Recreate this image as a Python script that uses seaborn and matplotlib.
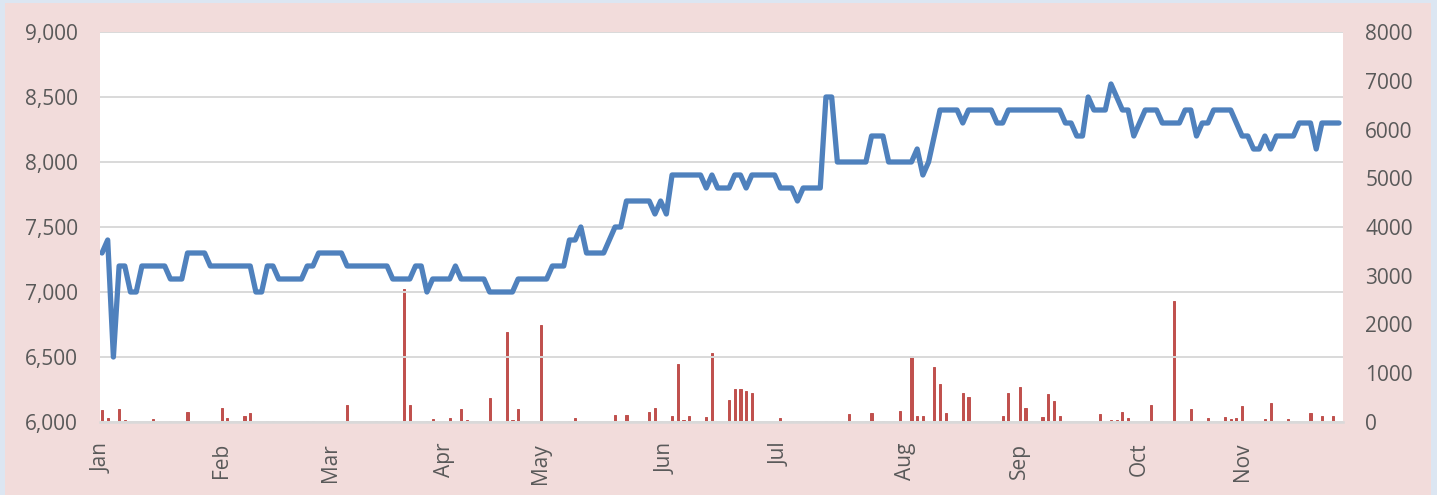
import numpy as np
import pandas as pd
import matplotlib
matplotlib.use("Agg")
import matplotlib.pyplot as plt
import seaborn as sns
from matplotlib.patches import Rectangle
from matplotlib.ticker import FuncFormatter

# trading days per month (category axis, one point per session)
months       = ["Jan", "Feb", "Mar", "Apr", "May", "Jun", "Jul", "Aug", "Sep", "Oct", "Nov"]
month_counts = [21, 19, 20, 17, 22, 20, 22, 20, 21, 18, 18]

# closing price (left axis)
close = [
    7300, 7400, 6500, 7200, 7200, 7000, 7000, 7200, 7200, 7200,
    7200, 7200, 7100, 7100, 7100, 7300, 7300, 7300, 7300, 7200,
    7200, 7200, 7200, 7200, 7200, 7200, 7200, 7000, 7000, 7200,
    7200, 7100, 7100, 7100, 7100, 7100, 7200, 7200, 7300, 7300,
    7300, 7300, 7300, 7200, 7200, 7200, 7200, 7200, 7200, 7200,
    7200, 7100, 7100, 7100, 7100, 7200, 7200, 7000, 7100, 7100,
    7100, 7100, 7200, 7100, 7100, 7100, 7100, 7100, 7000, 7000,
    7000, 7000, 7000, 7100, 7100, 7100, 7100, 7100, 7100, 7200,
    7200, 7200, 7400, 7400, 7500, 7300, 7300, 7300, 7300, 7400,
    7500, 7500, 7700, 7700, 7700, 7700, 7700, 7600, 7700, 7600,
    7900, 7900, 7900, 7900, 7900, 7900, 7800, 7900, 7800, 7800,
    7800, 7900, 7900, 7800, 7900, 7900, 7900, 7900, 7900, 7800,
    7800, 7800, 7700, 7800, 7800, 7800, 7800, 8500, 8500, 8000,
    8000, 8000, 8000, 8000, 8000, 8200, 8200, 8200, 8000, 8000,
    8000, 8000, 8000, 8100, 7900, 8000, 8200, 8400, 8400, 8400,
    8400, 8300, 8400, 8400, 8400, 8400, 8400, 8300, 8300, 8400,
    8400, 8400, 8400, 8400, 8400, 8400, 8400, 8400, 8400, 8300,
    8300, 8200, 8200, 8500, 8400, 8400, 8400, 8600, 8500, 8400,
    8400, 8200, 8300, 8400, 8400, 8400, 8300, 8300, 8300, 8300,
    8400, 8400, 8200, 8300, 8300, 8400, 8400, 8400, 8400, 8300,
    8200, 8200, 8100, 8100, 8200, 8100, 8200, 8200, 8200, 8200,
    8300, 8300, 8300, 8100, 8300, 8300, 8300, 8300,
]

# traded volume (right axis)
volume = [
    250, 75, 0, 260, 50, 0, 0, 0, 0, 70,
    0, 0, 20, 0, 0, 195, 0, 0, 0, 0,
    0, 285, 75, 0, 0, 125, 180, 0, 0, 25,
    20, 0, 0, 0, 0, 0, 30, 20, 0, 0,
    0, 0, 15, 350, 0, 0, 0, 0, 20, 0,
    0, 20, 0, 2720, 350, 0, 0, 20, 55, 0,
    20, 80, 0, 260, 40, 0, 0, 0, 500, 0,
    0, 1840, 40, 260, 0, 0, 0, 1990, 0, 0,
    20, 0, 20, 75, 0, 0, 0, 0, 0, 0,
    140, 0, 140, 0, 0, 20, 195, 280, 20, 0,
    120, 1190, 40, 120, 0, 0, 100, 1410, 25, 0,
    450, 677, 677, 636, 585, 0, 0, 10, 0, 75,
    0, 20, 30, 0, 0, 0, 0, 30, 15, 15,
    15, 170, 10, 10, 20, 178, 0, 15, 0, 15,
    222, 0, 1354, 120, 120, 27, 1125, 780, 178, 0,
    0, 600, 506, 0, 0, 0, 0, 15, 130, 588,
    0, 728, 283, 27, 0, 100, 574, 430, 113, 0,
    0, 0, 0, 0, 5, 164, 0, 41, 41, 212,
    80, 0, 0, 15, 349, 0, 15, 0, 2472, 0,
    0, 260, 0, 0, 80, 0, 0, 100, 62, 75,
    332, 0, 0, 0, 58, 390, 0, 0, 52, 0,
    0, 0, 178, 0, 120, 0, 127, 0,
]

df = pd.DataFrame({
    "idx": np.arange(len(close)),
    "close": close,
    "volume": volume,
    "month": np.repeat(months, month_counts),
})
month_start = df.groupby("month", sort=False)["idx"].min()

BLUE  = "#4F81BD"
RED   = "#C0504D"
PINK  = "#F2DCDB"
GRID  = "#D9D9D9"
TEXT  = "#595959"

sns.set_theme(style="white")
plt.rcParams["font.family"] = ["Open Sans", "DejaVu Sans"]

fig = plt.figure(figsize=(14.37, 4.95), dpi=100, facecolor="#DCE6F2")
fig.patches.append(Rectangle((5 / 1437, 0), 1426 / 1437, 492 / 495,
                             transform=fig.transFigure, facecolor=PINK,
                             edgecolor="none", zorder=0))

ax = fig.add_axes([100 / 1437, 1 - 422 / 495, 1243 / 1437, 390 / 495])
ax2 = ax.twinx()

# bars on the secondary axis, behind the price line
sns.barplot(data=df, x="idx", y="volume", native_scale=True, width=0.38,
            color=RED, saturation=1, errorbar=None, ax=ax2,
            edgecolor=RED, linewidth=0.7)
sns.lineplot(data=df, x="idx", y="close", ax=ax, color=BLUE, lw=3.8,
             solid_joinstyle="round", solid_capstyle="round")

ax.set_zorder(2)
ax2.set_zorder(1)
ax.patch.set_visible(False)
ax2.patch.set_visible(True)
ax2.patch.set_facecolor("white")

ax.set_xlim(-0.35, 217.7)
ax.set_ylim(6000, 9000)
ax.set_yticks(np.arange(6000, 9001, 500))
ax.yaxis.set_major_formatter(FuncFormatter(lambda v, p: f"{v:,.0f}"))
ax2.set_ylim(0, 8000)
ax2.set_yticks(np.arange(0, 8001, 1000))

ax.set_xticks(month_start.values)
ax.set_xticklabels(month_start.index, rotation=90)

ax.yaxis.grid(True, color=GRID, lw=1.4)
ax.xaxis.grid(False)
ax.set_axisbelow(True)

for a in (ax, ax2):
    a.set_xlabel("")
    a.set_ylabel("")
    for s in a.spines.values():
        s.set_visible(False)
    a.tick_params(length=0, labelsize=15, labelcolor=TEXT)
ax.spines["bottom"].set_visible(True)
ax.spines["bottom"].set_color(GRID)
ax.spines["bottom"].set_linewidth(1.8)
ax.tick_params(axis="y", pad=16)
ax.tick_params(axis="x", pad=15)
ax2.tick_params(axis="y", pad=16)

fig.savefig("out.png", dpi=100, facecolor=fig.get_facecolor())
